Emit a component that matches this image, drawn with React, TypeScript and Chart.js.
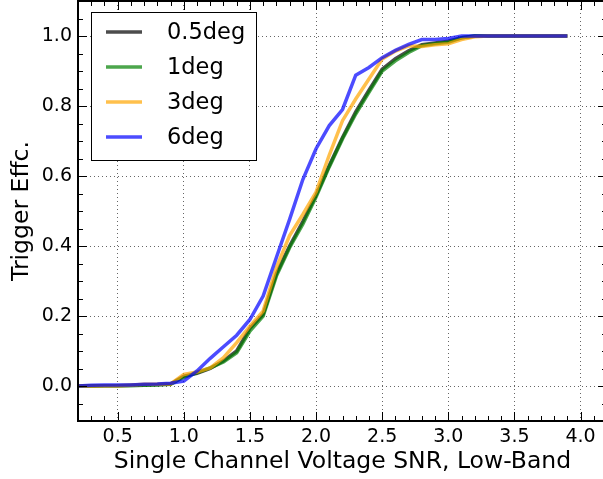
import React, { useEffect, useRef } from "react";
import { Chart, registerables } from "chart.js";

Chart.register(...registerables);

const SNR = [0.2, 0.3, 0.4, 0.5, 0.6, 0.7, 0.8, 0.9, 1.0, 1.1, 1.2, 1.3, 1.4, 1.5, 1.6, 1.7, 1.8, 1.9, 2.0, 2.1, 2.2, 2.3, 2.4, 2.5, 2.6, 2.7, 2.8, 2.9, 3.0, 3.1, 3.2, 3.3, 3.4, 3.5, 3.6, 3.7, 3.8, 3.9];

const EFF_05DEG = [0.0, 0.0, 0.001, 0.001, 0.002, 0.003, 0.004, 0.006, 0.028, 0.036, 0.05, 0.072, 0.1, 0.165, 0.205, 0.32, 0.4, 0.47, 0.545, 0.63, 0.71, 0.783, 0.845, 0.905, 0.935, 0.958, 0.975, 0.98, 0.985, 0.995, 1.0, 1.0, 1.0, 1.0, 1.0, 1.0, 1.0, 1.0];
const EFF_1DEG = [0.0, 0.0, 0.001, 0.001, 0.001, 0.002, 0.003, 0.005, 0.025, 0.038, 0.052, 0.069, 0.095, 0.157, 0.2, 0.314, 0.395, 0.462, 0.54, 0.626, 0.706, 0.777, 0.839, 0.9, 0.929, 0.953, 0.972, 0.978, 0.982, 0.995, 1.0, 1.0, 1.0, 1.0, 1.0, 1.0, 1.0, 1.0];
const EFF_3DEG = [0.0, 0.0, 0.001, 0.001, 0.002, 0.005, 0.005, 0.006, 0.033, 0.04, 0.052, 0.081, 0.124, 0.171, 0.214, 0.338, 0.43, 0.49, 0.554, 0.66, 0.758, 0.82, 0.877, 0.934, 0.957, 0.972, 0.97, 0.975, 0.978, 0.99, 0.998, 1.0, 1.0, 1.0, 1.0, 1.0, 1.0, 1.0];
const EFF_6DEG = [0.0, 0.002, 0.003, 0.003, 0.003, 0.005, 0.006, 0.008, 0.014, 0.043, 0.079, 0.112, 0.145, 0.19, 0.257, 0.367, 0.476, 0.59, 0.678, 0.744, 0.79, 0.888, 0.91, 0.938, 0.959, 0.976, 0.99, 0.99, 0.993, 1.0, 1.0, 1.0, 1.0, 1.0, 1.0, 1.0, 1.0, 1.0];

const SERIES_LABELS = ["0.5deg", "1deg", "3deg", "6deg"];
const SERIES_COLORS = ["rgba(0,0,0,0.7)", "rgba(0,128,0,0.7)", "rgba(255,165,0,0.7)", "rgba(0,0,255,0.7)"];

const X_TICKS = [0.5, 1.0, 1.5, 2.0, 2.5, 3.0, 3.5, 4.0];
const Y_TICKS = [0.0, 0.2, 0.4, 0.6, 0.8, 1.0];
const X_LABEL = "Single Channel Voltage SNR, Low-Band";
const Y_LABEL = "Trigger Effc.";

const FONT = "'DejaVu Sans', sans-serif";

const ticksAndFrame = {
  id: "ticksAndFrame",
  afterDraw(chart: any) {
    const { ctx, chartArea } = chart;
    const { left, right, top, bottom } = chartArea;
    const xs = chart.scales.x;
    const ys = chart.scales.y;
    ctx.save();
    ctx.strokeStyle = "#000";
    ctx.lineWidth = 1;
    for (let i = 2; i <= 42; i++) {
      const v = i / 10;
      const px = Math.round(xs.getPixelForValue(v)) + 0.5;
      if (px < left || px > right) continue;
      const len = i % 5 === 0 ? 9 : 5;
      ctx.beginPath();
      ctx.moveTo(px, bottom);
      ctx.lineTo(px, bottom - len);
      ctx.moveTo(px, top);
      ctx.lineTo(px, top + len);
      ctx.stroke();
    }
    for (let j = -2; j <= 22; j++) {
      const v = j / 20;
      const py = Math.round(ys.getPixelForValue(v)) + 0.5;
      if (py < top || py > bottom) continue;
      const len = j % 4 === 0 ? 9 : 5;
      ctx.beginPath();
      ctx.moveTo(left, py);
      ctx.lineTo(left + len, py);
      ctx.moveTo(right, py);
      ctx.lineTo(right - len, py);
      ctx.stroke();
    }
    ctx.lineWidth = 2;
    ctx.strokeRect(left, top, right - left, bottom - top);

    const bx = 91, by = 12, bw = 165, bh = 148;
    ctx.fillStyle = "#fff";
    ctx.fillRect(bx, by, bw, bh);
    ctx.lineWidth = 1;
    ctx.strokeStyle = "#000";
    ctx.strokeRect(bx + 0.5, by + 0.5, bw, bh);
    const datasets = chart.data.datasets;
    ctx.font = `22.5px ${FONT}`;
    ctx.textBaseline = "middle";
    ctx.textAlign = "left";
    datasets.forEach((ds: any, i: number) => {
      const ry = 32 + i * 35;
      ctx.strokeStyle = ds.borderColor;
      ctx.lineWidth = 3.5;
      ctx.beginPath();
      ctx.moveTo(106, ry);
      ctx.lineTo(142, ry);
      ctx.stroke();
      ctx.fillStyle = "#000";
      ctx.fillText(ds.label, 167, ry + 1);
    });
    ctx.restore();
  },
};

export default function App() {
  const ref = useRef<HTMLCanvasElement>(null);
  useEffect(() => {
    if (!ref.current) return;
    const series = [EFF_05DEG, EFF_1DEG, EFF_3DEG, EFF_6DEG];
    const datasets = series.map((vals, i) => ({
      label: SERIES_LABELS[i],
      data: SNR.map((x, k) => ({ x, y: vals[k] })),
      borderColor: SERIES_COLORS[i],
      backgroundColor: SERIES_COLORS[i],
      borderWidth: 3.5,
      pointRadius: 0,
      tension: 0,
      fill: false,
      order: series.length - i,
    }));
    const gridCfg = {
      color: "rgba(0,0,0,0.6)",
      lineWidth: 1,
      drawTicks: false,
    };
    const chart = new Chart(ref.current, {
      type: "line",
      data: { datasets },
      options: {
        animation: false,
        responsive: false,
        devicePixelRatio: 1,
        layout: { padding: { left: 0, right: 13, top: 1, bottom: 0 } },
        plugins: { legend: { display: false }, tooltip: { enabled: false } },
        scales: {
          x: {
            type: "linear",
            min: 0.2,
            max: 4.2,
            grid: gridCfg,
            border: { display: false, dash: [1, 3] },
            afterBuildTicks: (s: any) => {
              s.ticks = X_TICKS.map((v) => ({ value: v }));
            },
            afterFit: (s: any) => {
              s.height = 58;
              s.paddingLeft = 0;
              s.paddingRight = 0;
              s.paddingTop = 0;
              s.paddingBottom = 0;
            },
            ticks: {
              autoSkip: false,
              maxRotation: 0,
              padding: 5,
              color: "#000",
              font: { family: FONT, size: 19 },
              callback: (v: any) => Number(v).toFixed(1),
            },
            title: {
              display: true,
              text: X_LABEL,
              color: "#000",
              font: { family: FONT, size: 23.5 },
              padding: { top: 0, bottom: 3 },
            },
          },
          y: {
            type: "linear",
            min: -0.1,
            max: 1.1,
            grid: gridCfg,
            border: { display: false, dash: [1, 3] },
            afterBuildTicks: (s: any) => {
              s.ticks = Y_TICKS.map((v) => ({ value: v }));
            },
            afterFit: (s: any) => {
              s.width = 78;
              s.paddingLeft = 0;
              s.paddingRight = 0;
              s.paddingTop = 0;
              s.paddingBottom = 0;
            },
            ticks: {
              autoSkip: false,
              padding: 6,
              color: "#000",
              font: { family: FONT, size: 19 },
              callback: (v: any) => Number(v).toFixed(1),
            },
            title: {
              display: true,
              text: Y_LABEL,
              color: "#000",
              font: { family: FONT, size: 23.5 },
              padding: { top: 8, bottom: 0 },
            },
          },
        },
      },
      plugins: [ticksAndFrame],
    } as any);
    return () => chart.destroy();
  }, []);
  return (
    <div
      style={{
        position: "fixed",
        left: 0,
        top: 0,
        width: 603,
        height: 479,
        overflow: "hidden",
        background: "#fff",
      }}
    >
      <canvas ref={ref} width={620} height={479} style={{ display: "block", width: 620, height: 479 }} />
    </div>
  );
}
